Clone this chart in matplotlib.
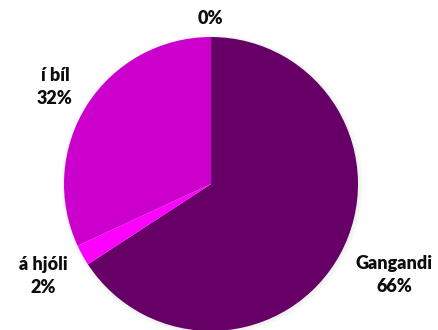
import matplotlib
matplotlib.use("Agg")
import matplotlib.pyplot as plt
import numpy as np

categories = ["Gangandi", "á hjóli", "í bíl", ""]
values = [65.8, 2.3, 31.9, 0.0]
pct_labels = ["66%", "2%", "32%", "0%"]
colors = ["#660066", "#FF00FF", "#CC00CC", "#990099"]

W, H = 439, 330
fig = plt.figure(figsize=(W / 100, H / 100), dpi=100)
ax = fig.add_axes([0, 0, 1, 1])
ax.set_xlim(0, W)
ax.set_ylim(0, H)
ax.set_aspect("equal")
ax.axis("off")

cx, cy, r = 211, H - 184, 147

# soft shadow
for i, a in enumerate(np.linspace(0.02, 0.005, 4)):
    ax.add_patch(plt.Circle((cx + 1, cy - 1), r + 1.5 + i * 1.2, color="black", alpha=a, lw=0, zorder=0))

wedges, _ = ax.pie(values, colors=colors, startangle=90, counterclock=False,
                   center=(cx, cy), radius=r, wedgeprops=dict(linewidth=0), frame=False)
ax.set_xlim(0, W)
ax.set_ylim(0, H)
for w in wedges:
    w.set_zorder(2)

label_pos = [(394, 275), (43, 276), (55, 87), (210, 18)]
font = dict(family=["Lato", "DejaVu Sans"], fontweight="heavy", fontsize=13, color="#0d0d0d")
for cat, pl, (x, y) in zip(categories, pct_labels, label_pos):
    txt = f"{cat}\n{pl}" if cat else pl
    ax.text(x, H - y, txt, ha="center", va="center", linespacing=1.4, **font)

fig.savefig("out.png", dpi=100)
